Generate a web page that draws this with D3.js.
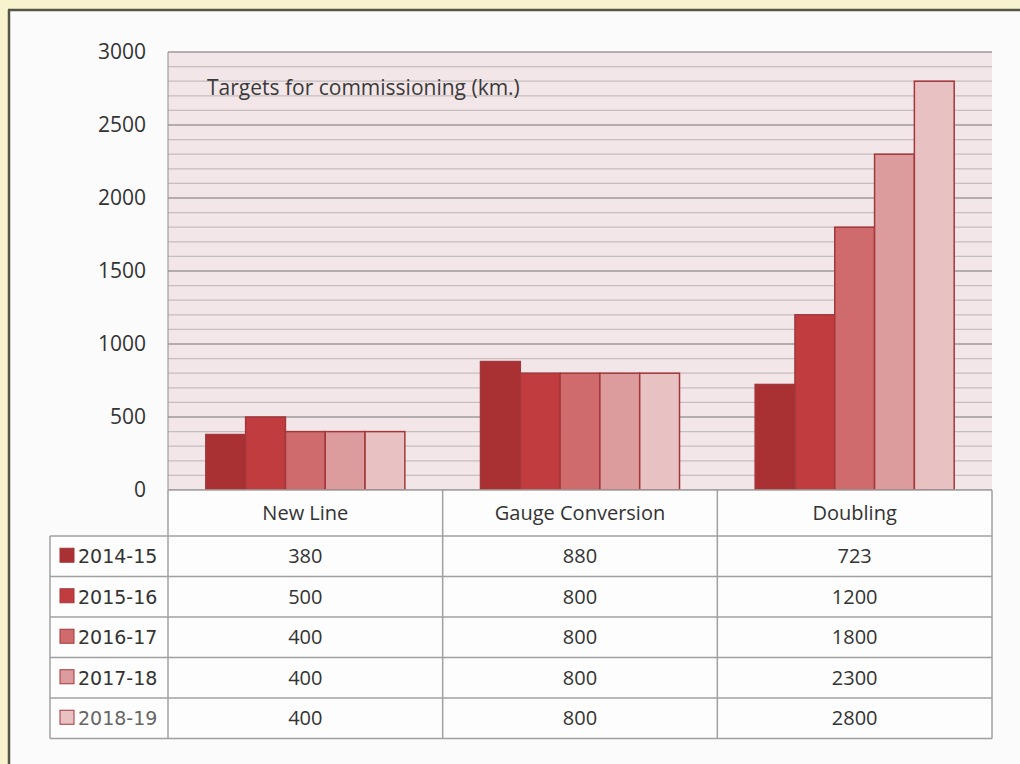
<!DOCTYPE html>
<html>
<head>
<meta charset="utf-8">
<script src="https://cdn.jsdelivr.net/npm/d3@7"></script>
<style>
  html, body { margin: 0; padding: 0; background: #f7f3cf; }
  svg { display: block; }
</style>
</head>
<body>
<svg id="chart"></svg>
<script>
const categories = ["New Line", "Gauge Conversion", "Doubling"];
const years = ["2014-15", "2015-16", "2016-17", "2017-18", "2018-19"];
const values2014 = [380, 880, 723];
const values2015 = [500, 800, 1200];
const values2016 = [400, 800, 1800];
const values2017 = [400, 800, 2300];
const values2018 = [400, 800, 2800];
const yTicks = [0, 500, 1000, 1500, 2000, 2500, 3000];
const colors = ["#a93133", "#c03c3e", "#cf6b6c", "#dc9c9d", "#e8c1c2"];

const series = [values2014, values2015, values2016, values2017, values2018];

const width = 1020, height = 764;
const font = "'Open Sans', sans-serif";
const svg = d3.select("#chart").attr("width", width).attr("height", height);

// white panel with dark top/left edge
svg.append("rect").attr("x", 8).attr("y", 10).attr("width", width).attr("height", height)
    .attr("fill", "#fbfbfb");
svg.append("line").attr("x1", 9).attr("x2", 9).attr("y1", 10).attr("y2", height)
    .attr("stroke", "#55554a").attr("stroke-width", 2.5);
svg.append("line").attr("x1", 8).attr("x2", width).attr("y1", 10).attr("y2", 10)
    .attr("stroke", "#55554a").attr("stroke-width", 2.5);

const plot = { left: 168, right: 992, top: 52, bottom: 490 };

const x = d3.scaleBand().domain(categories).range([plot.left, plot.right]);
const xInner = d3.scaleBand().domain(years).range([0, x.bandwidth()])
    .paddingOuter(0.95).paddingInner(0);
const y = d3.scaleLinear().domain([0, 3000]).range([plot.bottom, plot.top]);

// plot background
svg.append("rect")
    .attr("x", plot.left).attr("y", plot.top)
    .attr("width", plot.right - plot.left).attr("height", plot.bottom - plot.top)
    .attr("fill", "#f3e6e8");

// grid lines every 100, darker every 500
svg.append("g").selectAll("line")
    .data(d3.range(0, 3001, 100))
    .join("line")
    .attr("x1", plot.left).attr("x2", plot.right)
    .attr("y1", d => y(d)).attr("y2", d => y(d))
    .attr("stroke", d => d % 500 === 0 ? "#9f9a9b" : "#c6bdbf")
    .attr("stroke-width", d => d % 500 === 0 ? 1.5 : 1.2);

// left border of plot
svg.append("line")
    .attr("x1", plot.left).attr("x2", plot.left)
    .attr("y1", plot.top).attr("y2", plot.bottom)
    .attr("stroke", "#8f8f8f").attr("stroke-width", 1);

// y axis labels
const yAxis = d3.axisLeft(y).tickValues(yTicks).tickFormat(d3.format("d"))
    .tickSize(0).tickPadding(22);
svg.append("g")
    .attr("transform", `translate(${plot.left},0)`)
    .call(yAxis)
    .call(g => g.select(".domain").remove())
    .call(g => g.selectAll("text")
        .attr("font-family", font)
        .attr("font-size", 21)
        .attr("fill", "#333"));

// bars
const groups = svg.append("g").selectAll("g")
    .data(categories)
    .join("g")
    .attr("transform", d => `translate(${x(d)},0)`);

groups.selectAll("rect")
    .data((c, ci) => years.map((yr, i) => ({ yr, i, v: series[i][ci] })))
    .join("rect")
    .attr("x", d => xInner(d.yr))
    .attr("width", xInner.bandwidth())
    .attr("y", d => y(d.v))
    .attr("height", d => y(0) - y(d.v))
    .attr("fill", d => colors[d.i])
    .attr("stroke", "#a3373a")
    .attr("stroke-width", 1.5);

// chart title inside plot
svg.append("text")
    .attr("x", 207).attr("y", 95)
    .attr("font-family", font)
    .attr("font-size", 21)
    .attr("fill", "#3a3a3a")
    .text("Targets for commissioning (km.)");

// data table
const headerTop = 490, headerH = 46, rowH = 40.5;
const legendLeft = 50;
const tableBottom = headerTop + headerH + rowH * years.length;
const table = svg.append("g");
const gridColor = "#a0a0a0";

table.append("rect")
    .attr("x", plot.left).attr("y", headerTop)
    .attr("width", plot.right - plot.left).attr("height", tableBottom - headerTop)
    .attr("fill", "#fdfdfd");
table.append("rect")
    .attr("x", legendLeft).attr("y", headerTop + headerH)
    .attr("width", plot.left - legendLeft).attr("height", tableBottom - headerTop - headerH)
    .attr("fill", "#fdfdfd");

// horizontal rules
table.selectAll(".hrule")
    .data(d3.range(years.length + 1))
    .join("line")
    .attr("x1", legendLeft).attr("x2", plot.right)
    .attr("y1", i => headerTop + headerH + i * rowH)
    .attr("y2", i => headerTop + headerH + i * rowH)
    .attr("stroke", gridColor).attr("stroke-width", 1.5);
table.append("line")
    .attr("x1", plot.left).attr("x2", plot.right)
    .attr("y1", headerTop).attr("y2", headerTop)
    .attr("stroke", gridColor).attr("stroke-width", 1.5);

// vertical rules
const colEdges = categories.map(c => x(c)).concat([plot.right]);
table.selectAll(".vrule")
    .data(colEdges)
    .join("line")
    .attr("x1", d => d).attr("x2", d => d)
    .attr("y1", headerTop).attr("y2", tableBottom)
    .attr("stroke", gridColor).attr("stroke-width", 1.5);
table.append("line")
    .attr("x1", legendLeft).attr("x2", legendLeft)
    .attr("y1", headerTop + headerH).attr("y2", tableBottom)
    .attr("stroke", gridColor).attr("stroke-width", 1.5);

// header labels
table.selectAll(".head")
    .data(categories)
    .join("text")
    .attr("x", d => x(d) + x.bandwidth() / 2)
    .attr("y", headerTop + headerH / 2 + 7)
    .attr("text-anchor", "middle")
    .attr("font-family", font)
    .attr("font-size", 20)
    .attr("fill", "#333")
    .text(d => d);

// legend keys + year labels
const rows = table.selectAll(".row")
    .data(years)
    .join("g")
    .attr("transform", (d, i) => `translate(0,${headerTop + headerH + i * rowH})`);

rows.append("rect")
    .attr("x", 60).attr("y", rowH / 2 - 8)
    .attr("width", 14).attr("height", 14)
    .attr("fill", (d, i) => colors[i])
    .attr("stroke", "#a3373a").attr("stroke-width", 1);

rows.append("text")
    .attr("x", 78).attr("y", rowH / 2 + 7)
    .attr("font-family", "'DejaVu Sans', sans-serif")
    .attr("font-size", 19)
    .attr("fill", (d, i) => i === years.length - 1 ? "#666" : "#333")
    .text(d => d);

rows.selectAll(".val")
    .data((d, i) => categories.map((c, ci) => ({ c, v: series[i][ci], last: i === years.length - 1 })))
    .join("text")
    .attr("x", d => x(d.c) + x.bandwidth() / 2)
    .attr("y", rowH / 2 + 7)
    .attr("text-anchor", "middle")
    .attr("font-family", font)
    .attr("font-size", 20)
    .attr("fill", "#333")
    .text(d => d.v);
</script>
</body>
</html>
